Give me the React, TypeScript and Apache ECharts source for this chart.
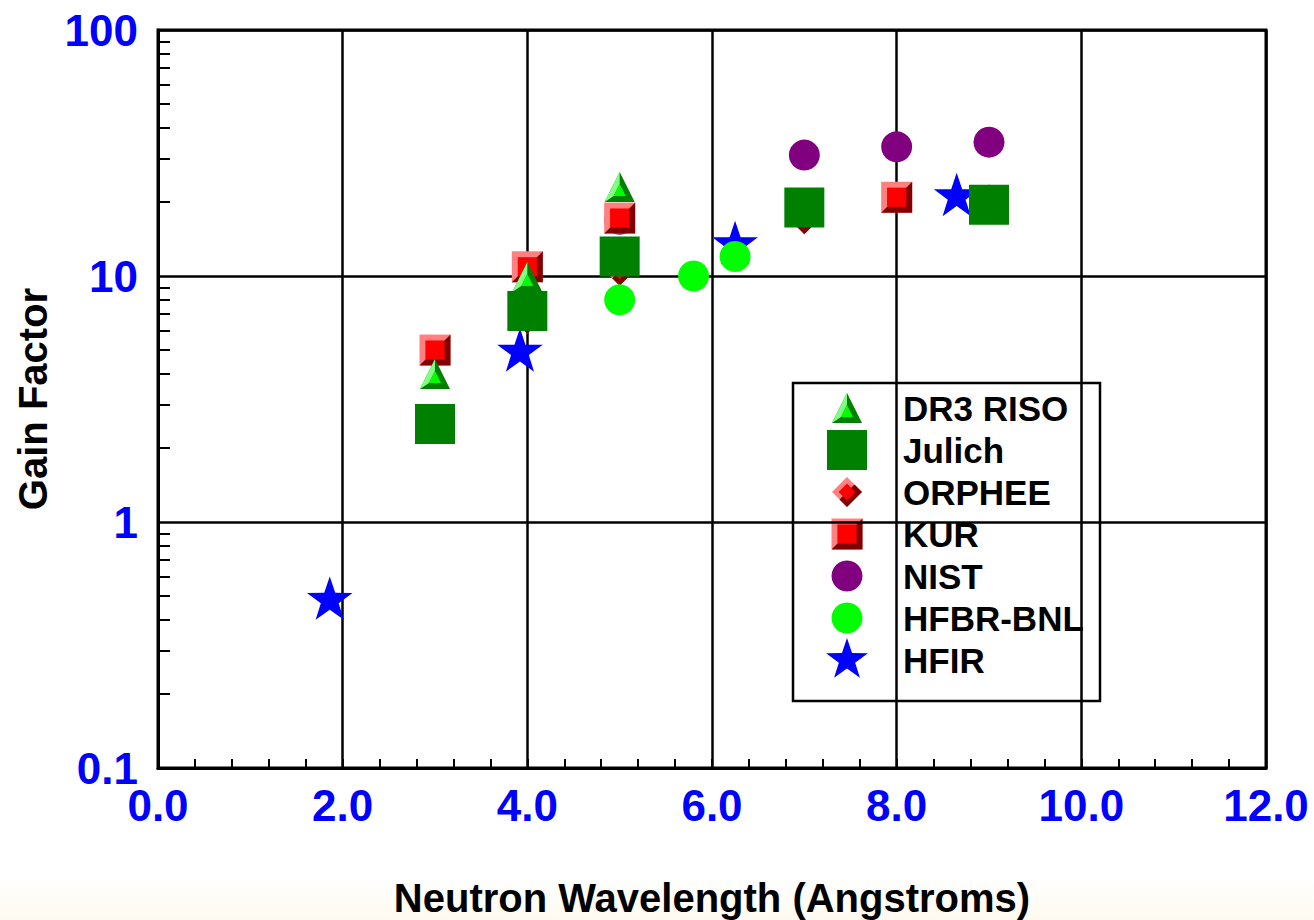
import React, { useEffect, useRef } from "react";
import * as echarts from "echarts";

// ---------------- data ----------------
const dr3X = [3, 4, 5];
const dr3Y = [4.0, 9.9, 23];
const julichX = [3, 4, 5, 7, 9];
const julichY = [2.5, 7.2, 12, 19, 19.5];
const orpheeX = [4, 5, 7, 9];
const orpheeY = [6.7, 10.5, 17, 20.5];
const kurX = [3, 4, 5, 8];
const kurY = [5.0, 10.9, 17.2, 20.9];
const nistX = [5, 7, 8, 9];
const nistY = [17, 31, 33.5, 35];
const hfbrX = [5, 5.8, 6.25];
const hfbrY = [8.0, 10, 12];
const hfirX = [1.86, 3.92, 6.25, 8.65];
const hfirY = [0.48, 4.9, 13.4, 21];

const legendOrder = ["DR3 RISO", "Julich", "ORPHEE", "KUR", "NIST", "HFBR-BNL", "HFIR"];
const yMinorTicks = [0.2, 0.3, 0.4, 0.5, 0.6, 0.7, 0.8, 0.9, 2, 3, 4, 5, 6, 7, 8, 9, 20, 30, 40, 50, 60, 70, 80, 90];

// ---------------- symbol shapes (unit box) ----------------
type Pts = number[][];
type Layer = { pts: Pts | "circle"; color: string };

const SQUARE: Pts = [[0, 0], [1, 0], [1, 1], [0, 1]];
const LOWER_RIGHT: Pts = [[1, 0], [1, 1], [0, 1]];
const INNER_SQUARE: Pts = [[0.19, 0.19], [0.81, 0.19], [0.81, 0.81], [0.19, 0.81]];
const TRIANGLE: Pts = [[0.5, 0], [1, 1], [0, 1]];
const TRI_LIGHT: Pts = [[0.5, 0], [0.5, 0.4], [0.3, 0.8], [0, 1]];
const TRI_INNER: Pts = [[0.5, 0.4], [0.7, 0.8], [0.3, 0.8]];
const DIAMOND: Pts = [[0.5, 0], [1, 0.5], [0.5, 1], [0, 0.5]];
const DIA_DARK: Pts = [[0.75, 0.25], [1, 0.5], [0.5, 1], [0.25, 0.75]];
const DIA_INNER: Pts = [[0.5, 0.22], [0.78, 0.5], [0.5, 0.78], [0.22, 0.5]];
const STAR: Pts = (() => {
  const p: Pts = [];
  for (let k = 0; k < 10; k++) {
    const r = k % 2 === 0 ? 0.5 : 0.195;
    const a = (-90 + k * 36) * (Math.PI / 180);
    p.push([0.5 + r * Math.cos(a), 0.5 + r * Math.sin(a)]);
  }
  return p;
})();

type Spec = { name: string; x: number[]; y: number[]; size: number; layers: Layer[] };

const specs: Spec[] = [
  { name: "NIST", x: nistX, y: nistY, size: 31, layers: [{ pts: "circle", color: "#800080" }] },
  { name: "HFIR", x: hfirX, y: hfirY, size: 48, layers: [{ pts: STAR, color: "#0000ff" }] },
  {
    name: "KUR", x: kurX, y: kurY, size: 31,
    layers: [
      { pts: SQUARE, color: "#ff8080" },
      { pts: LOWER_RIGHT, color: "#800000" },
      { pts: INNER_SQUARE, color: "#ff0000" },
    ],
  },
  {
    name: "ORPHEE", x: orpheeX, y: orpheeY, size: 30,
    layers: [
      { pts: DIAMOND, color: "#ff8080" },
      { pts: DIA_DARK, color: "#800000" },
      { pts: DIA_INNER, color: "#ff0000" },
    ],
  },
  {
    name: "DR3 RISO", x: dr3X, y: dr3Y, size: 30,
    layers: [
      { pts: TRIANGLE, color: "#008000" },
      { pts: TRI_LIGHT, color: "#80ff80" },
      { pts: TRI_INNER, color: "#00ff00" },
    ],
  },
  { name: "Julich", x: julichX, y: julichY, size: 40, layers: [{ pts: SQUARE, color: "#008000" }] },
  { name: "HFBR-BNL", x: hfbrX, y: hfbrY, size: 31, layers: [{ pts: "circle", color: "#00ff00" }] },
];

function layerSymbol(layer: Layer, S: number) {
  if (layer.pts === "circle") {
    return { symbol: "circle", symbolSize: S, symbolOffset: [0, 0] };
  }
  const pts = layer.pts;
  const xs = pts.map((p) => p[0]);
  const ys = pts.map((p) => p[1]);
  const minx = Math.min(...xs), maxx = Math.max(...xs);
  const miny = Math.min(...ys), maxy = Math.max(...ys);
  const d =
    "path://M" +
    pts.map((p) => `${(p[0] * 100).toFixed(2)},${(p[1] * 100).toFixed(2)}`).join(" L") +
    " Z";
  return {
    symbol: d,
    symbolSize: [S * (maxx - minx), S * (maxy - miny)],
    symbolOffset: [S * ((minx + maxx) / 2 - 0.5), S * ((miny + maxy) / 2 - 0.5)],
  };
}

function layerGraphic(layer: Layer, S: number, cx: number, cy: number) {
  if (layer.pts === "circle") {
    return { type: "circle", shape: { cx, cy, r: S / 2 }, style: { fill: layer.color } };
  }
  return {
    type: "polygon",
    shape: { points: layer.pts.map((p) => [cx + (p[0] - 0.5) * S, cy + (p[1] - 0.5) * S]) },
    style: { fill: layer.color },
  };
}

const FONT = '"Liberation Sans", Arial, Helvetica, sans-serif';

export default function App() {
  const ref = useRef<HTMLDivElement>(null);

  useEffect(() => {
    if (!ref.current) return;
    const chart = echarts.init(ref.current, undefined, { renderer: "svg" });

    const series: any[] = [];
    specs.forEach((s) => {
      s.layers.forEach((layer) => {
        const sym = layerSymbol(layer, s.size);
        series.push({
          type: "scatter",
          name: s.name,
          xAxisIndex: 0,
          yAxisIndex: 0,
          data: s.x.map((x, i) => [x, s.y[i]]),
          symbol: sym.symbol,
          symbolSize: sym.symbolSize,
          symbolOffset: sym.symbolOffset,
          symbolKeepAspect: false,
          itemStyle: { color: layer.color, opacity: 1, borderWidth: 0 },
          emphasis: { disabled: true },
          silent: true,
          z: 3,
        });
      });
    });

    // legend drawn as graphic
    const legendX = 793, legendY = 383, legendW = 307, legendH = 318;
    const iconCX = 847, textX = 903, rowTop = 408, rowStep = 42;
    const legendChildren: any[] = [
      {
        type: "rect",
        shape: { x: legendX, y: legendY, width: legendW, height: legendH },
        style: { fill: "#ffffff", stroke: "#000000", lineWidth: 2.5 },
      },
    ];
    legendOrder.forEach((name, i) => {
      const s = specs.find((sp) => sp.name === name)!;
      const cy = rowTop + i * rowStep;
      const S = name === "HFIR" ? 44 : s.size;
      s.layers.forEach((layer) => legendChildren.push(layerGraphic(layer, S, iconCX, cy)));
      legendChildren.push({
        type: "text",
        x: textX,
        y: cy,
        style: {
          text: name,
          fill: "#000000",
          font: `bold 35px ${FONT}`,
          align: "left",
          verticalAlign: "middle",
        },
      });
    });

    const option: any = {
      animation: false,
      backgroundColor: "transparent",
      grid: {
        left: 158,
        top: 30,
        right: 48,
        bottom: 152,
        show: true,
        borderColor: "#000",
        borderWidth: 3,
        containLabel: false,
        outerBoundsMode: "none",
      },
      xAxis: {
        type: "value",
        min: 0,
        max: 12,
        interval: 2,
        name: "Neutron Wavelength (Angstroms)",
        nameLocation: "middle",
        nameGap: 110,
        nameTextStyle: { fontSize: 40, fontWeight: "bold", color: "#000", fontFamily: FONT },
        axisLine: { show: true, lineStyle: { color: "#000", width: 3 } },
        axisTick: { show: true, inside: true, length: 9, lineStyle: { color: "#000", width: 2 } },
        minorTick: { show: true, splitNumber: 5, length: 9, lineStyle: { color: "#000", width: 2 } },
        splitLine: { show: true, lineStyle: { color: "#000", width: 2.5 } },
        axisLabel: {
          formatter: (v: number) => v.toFixed(1),
          color: "#0000ff",
          fontSize: 44,
          fontWeight: "bold",
          fontFamily: FONT,
          margin: 15,
        },
      },
      yAxis: [
        {
          type: "log",
          logBase: 10,
          min: 0.1,
          max: 100,
          name: "Gain Factor",
          nameLocation: "middle",
          nameGap: 105,
          nameTextStyle: { fontSize: 40, fontWeight: "bold", color: "#000", fontFamily: FONT },
          axisLine: { show: true, lineStyle: { color: "#000", width: 3 } },
          axisTick: { show: false },
          splitLine: { show: true, lineStyle: { color: "#000", width: 2.5 } },
          axisLabel: {
            formatter: (v: number) => String(Number(v.toPrecision(2))),
            color: "#0000ff",
            fontSize: 44,
            fontWeight: "bold",
            fontFamily: FONT,
            margin: 20,
          },
        },
        {
          type: "log",
          logBase: 10,
          min: 0.1,
          max: 100,
          position: "left",
          axisLine: { show: false },
          splitLine: { show: false },
          axisLabel: { show: false },
          axisTick: {
            show: true,
            inside: true,
            length: 12,
            customValues: yMinorTicks,
            lineStyle: { color: "#000", width: 2 },
          },
        },
      ],
      graphic: [{ type: "group", z: 100, children: legendChildren }],
      series,
    };

    chart.setOption(option);
    return () => chart.dispose();
  }, []);

  return (
    <div
      ref={ref}
      style={{
        position: "fixed",
        left: 0,
        top: 0,
        width: 1314,
        height: 920,
        background: "linear-gradient(to bottom, #ffffff 0px, #ffffff 875px, #fefaf0 920px)",
      }}
    />
  );
}
